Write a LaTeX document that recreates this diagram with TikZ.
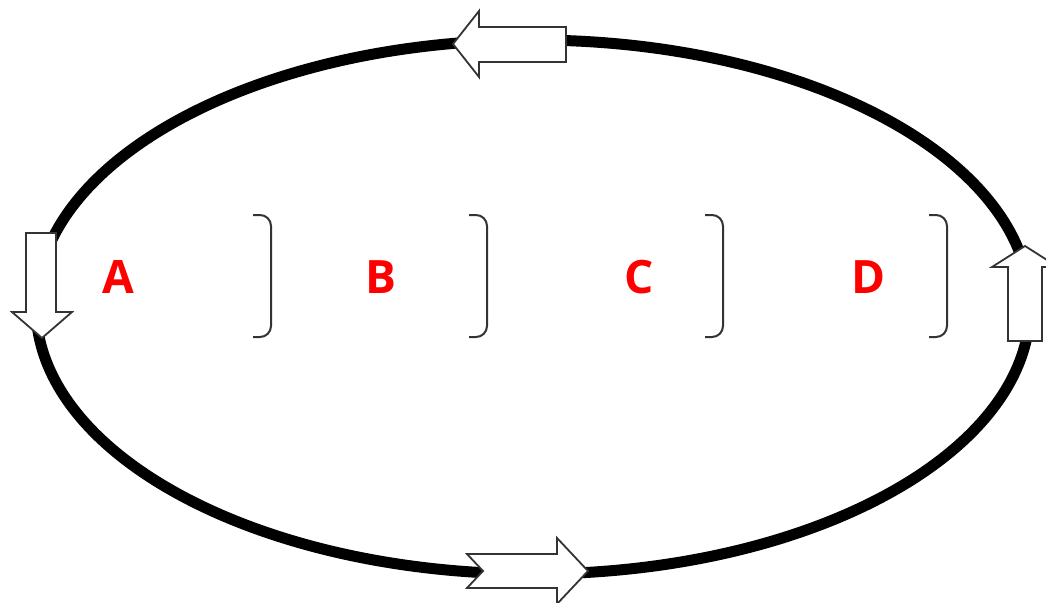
\documentclass[tikz,border=0pt]{standalone}
\usepackage{fontspec}
\newfontfamily\labelfont{Open Sans}
\begin{document}
\begin{tikzpicture}[x=1pt,y=-1pt,
  loop/.style={line width=11pt,black},
  blockarrow/.style={draw=black!80,line width=1.8pt,fill=white,line join=miter},
  brace/.style={draw=black!80,line width=2pt,rounded corners=11pt},
  region/.style={text=red,font=\labelfont\bfseries\fontsize{46}{46}\selectfont,anchor=base,inner sep=0pt}]
\useasboundingbox (0,0) rectangle (1046,602);
\fill[white] (0,0) rectangle (1046,602);

% the closed cycle
\draw[loop] (533,307) ellipse [x radius=497,y radius=267];

% direction markers along the cycle
\draw[blockarrow] (453,44) -- (479,11) -- (479,27) -- (566,27) -- (566,62)
  -- (479,62) -- (479,77) -- cycle;
\draw[blockarrow] (26,233) -- (56,233) -- (56,312) -- (72,312) -- (42,338)
  -- (12,312) -- (26,312) -- cycle;
\draw[blockarrow] (1025,246) -- (1058,267) -- (1042,267) -- (1042,341)
  -- (1008,341) -- (1008,267) -- (992,267) -- cycle;
\draw[blockarrow] (467,554) -- (557,554) -- (557,538) -- (588,571) -- (557,604)
  -- (557,588) -- (467,588) -- (483,571) -- cycle;

% region separators
\foreach \bx in {271,487,723,947}
  \draw[brace] (\bx-18,215) -- (\bx,215) -- (\bx,337) -- (\bx-18,337);

% region labels
\node[region] (A) at (118.5,293) {A};
\node[region] (B) at (381,293) {B};
\node[region] (C) at (639,293) {C};
\node[region] (D) at (869,293) {D};
\end{tikzpicture}
\end{document}
